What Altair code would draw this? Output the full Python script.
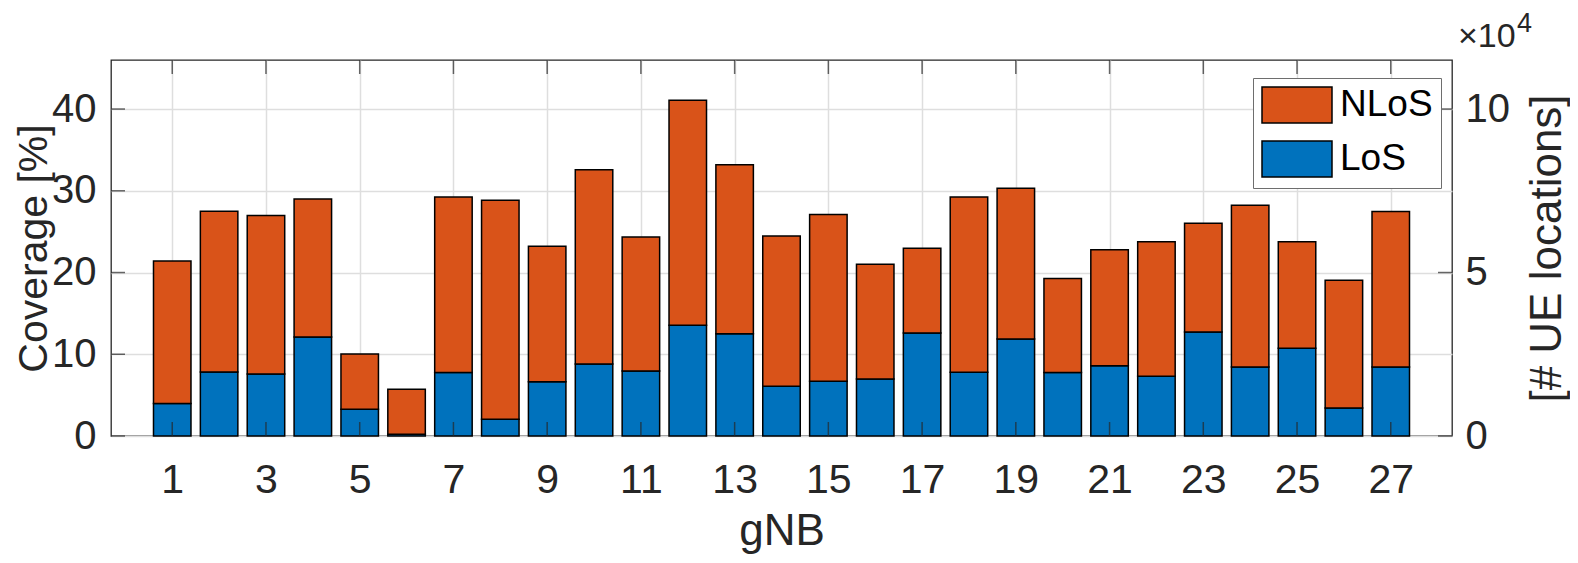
import altair as alt
import pandas as pd

# ---- data ----
gnb = list(range(1, 28))
los = [3.97, 7.83, 7.60, 12.10, 3.27, 0.20, 7.76, 2.04, 6.65, 8.81,
       7.96, 13.55, 12.50, 6.08, 6.70, 6.98, 12.60, 7.80, 11.88, 7.76,
       8.60, 7.30, 12.73, 8.45, 10.73, 3.43, 8.45]
total = [21.40, 27.50, 26.98, 29.00, 10.04, 5.72, 29.25, 28.85, 23.20, 32.56,
         24.36, 41.09, 33.20, 24.48, 27.10, 21.00, 22.97, 29.25, 30.30, 19.26,
         22.80, 23.75, 26.03, 28.24, 23.75, 19.06, 27.46]
x_ticks = list(range(1, 28, 2))
y_ticks = [0, 10, 20, 30, 40]
right_ticks = [0, 20, 40]   # 0, 5, 10 (x10^4 UE locations); 10^4 locations = 4 %
series = ["NLoS", "LoS"]
colors = ["#D95319", "#0072BD"]

W, H = 1341, 376
FONT = "Liberation Sans"
AX = "#262626"
GRID = "#dedede"

df = pd.DataFrame({"gnb": gnb, "los": los, "total": total})
xt = pd.DataFrame({"t": x_ticks})
yt = pd.DataFrame({"v": y_ticks})
rt = pd.DataFrame({"v": right_ticks})

xscale = alt.Scale(domain=[-0.2, 28.2], nice=False, zero=False)
yscale = alt.Scale(domain=[0, 46], nice=False, zero=True)
cscale = alt.Scale(domain=series, range=colors)

leg = alt.Legend(
    title=None, orient="none", legendX=1142, legendY=18,
    symbolType="M-1,-1H2.889V1H-1Z", symbolSize=1296,
    symbolStrokeColor="black", symbolStrokeWidth=1.5, symbolOpacity=1,
    labelFont=FONT, labelFontSize=37, labelColor="black", labelOffset=41,
    labelLimit=0, rowPadding=12, padding=8,
    strokeColor="#6e6e6e", fillColor="white", cornerRadius=0,
)

x_axis = alt.Axis(
    values=x_ticks, title="gNB", grid=True, gridColor=GRID, gridWidth=1.5,
    ticks=False, tickSize=0, domain=False, labelFont=FONT, labelFontSize=41,
    labelColor=AX, labelPadding=56, labelBaseline="alphabetic",
    labelFlush=False, labelOverlap=False,
    titleFont=FONT, titleFontSize=44, titleFontWeight="normal", titleColor=AX,
    titleY=108, titleBaseline="alphabetic", titleX=W / 2, titleAlign="center",
)
left_axis = alt.Axis(
    values=y_ticks, title="Coverage [%]", grid=True, gridColor=GRID, gridWidth=1.5,
    ticks=False, tickSize=0, domain=False, labelFont=FONT, labelFontSize=40,
    labelColor=AX, labelPadding=15, labelFlush=False, labelOverlap=False,
    titleFont=FONT, titleFontSize=41, titleFontWeight="normal", titleColor=AX,
    titleAngle=270, titleX=-65, titleY=H / 2, titleBaseline="alphabetic",
    titleAlign="center",
)
right_axis = alt.Axis(
    orient="right", values=right_ticks, labelExpr="datum.value / 4",
    title="[# UE locations]", grid=False, ticks=False, tickSize=0, domain=False,
    labelFont=FONT, labelFontSize=40, labelColor=AX, labelPadding=13,
    labelFlush=False, labelOverlap=False,
    titleFont=FONT, titleFontSize=44, titleFontWeight="normal", titleColor=AX,
    titleAngle=270, titleX=108, titleY=H / 2, titleBaseline="alphabetic",
    titleAlign="center",
)

base = alt.Chart(df).transform_calculate(x0="datum.gnb - 0.4", x1="datum.gnb + 0.4")

los_bars = base.transform_calculate(s="'LoS'").mark_bar(
    stroke="black", strokeWidth=1.5, opacity=1, orient="vertical"
).encode(
    x=alt.X("x0:Q", scale=xscale, axis=x_axis),
    x2="x1:Q",
    y=alt.Y("los:Q", scale=yscale, axis=left_axis, stack=None),
    y2=alt.datum(0),
    color=alt.Color("s:N", scale=cscale, legend=leg),
)

nlos_bars = base.transform_calculate(s="'NLoS'").mark_bar(
    stroke="black", strokeWidth=1.5, opacity=1, orient="vertical"
).encode(
    x=alt.X("x0:Q", scale=xscale, axis=x_axis),
    x2="x1:Q",
    y=alt.Y("los:Q", scale=yscale, axis=right_axis),
    y2="total:Q",
    color=alt.Color("s:N", scale=cscale, legend=leg),
)

tick_style = dict(color=AX, size=14, thickness=1.5)
bot_ticks = alt.Chart(xt).mark_tick(orient="vertical", **tick_style).encode(
    x=alt.X("t:Q", scale=xscale, axis=x_axis), y=alt.value(H - 7))
top_ticks = alt.Chart(xt).mark_tick(orient="vertical", **tick_style).encode(
    x=alt.X("t:Q", scale=xscale, axis=x_axis), y=alt.value(7))
left_ticks = alt.Chart(yt).mark_tick(orient="horizontal", **tick_style).encode(
    y=alt.Y("v:Q", scale=yscale, axis=None), x=alt.value(7))
right_ticks_m = alt.Chart(rt).mark_tick(orient="horizontal", **tick_style).encode(
    y=alt.Y("v:Q", scale=yscale, axis=None), x=alt.value(W - 7))

exp_base = alt.Chart(pd.DataFrame({"t": ["\u00d710"]})).mark_text(
    font=FONT, fontSize=34, color=AX, align="left", baseline="alphabetic"
).encode(text="t:N", x=alt.value(1347), y=alt.value(-13))
exp_sup = alt.Chart(pd.DataFrame({"t": ["4"]})).mark_text(
    font=FONT, fontSize=27, color=AX, align="left", baseline="alphabetic"
).encode(text="t:N", x=alt.value(1406), y=alt.value(-28))

chart = alt.layer(
    los_bars, nlos_bars, bot_ticks, top_ticks, left_ticks, right_ticks_m,
    exp_base, exp_sup
).resolve_axis(y="independent").properties(
    width=W, height=H, autosize="none",
    padding={"left": 103, "top": 52, "right": 118, "bottom": 119},
    background="white",
).configure_view(stroke=AX, strokeWidth=1.3)

chart.save("out.html", embed_options={"renderer": "svg", "actions": False})
